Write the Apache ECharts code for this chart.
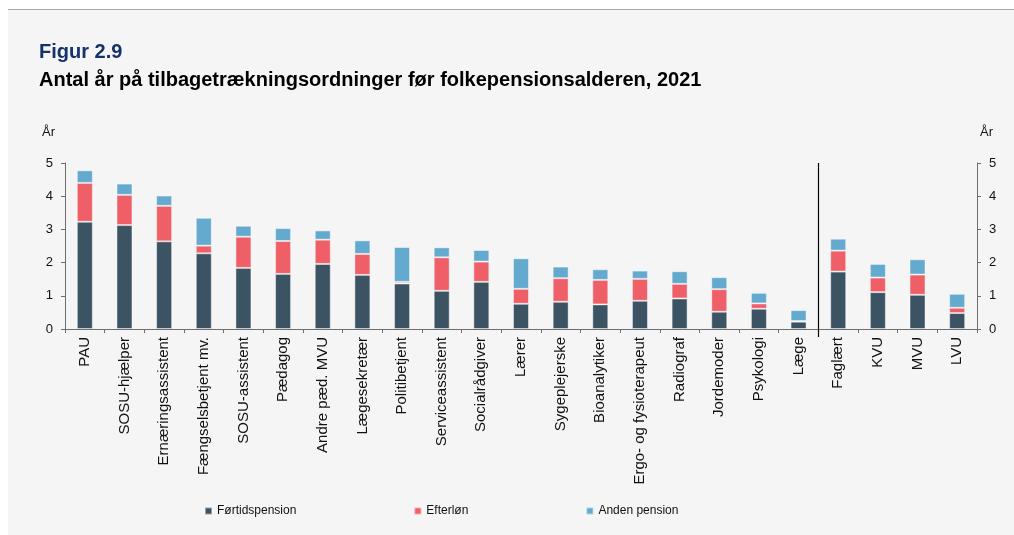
<!DOCTYPE html>
<html lang="da">
<head>
	<meta charset="UTF-8">
	<title>Figur 2.9</title>
	<script src="https://cdn.jsdelivr.net/npm/echarts@6/dist/echarts.min.js"></script>
	<style>
		html, body { margin: 0; padding: 0; background: #fff; }
		#main { width: 1014px; height: 535px; }
	</style>
</head>
<body>
	<div id="main"></div>
	<script>
		// kategorier (uddannelser / grupper)
		var categories = ['PAU', 'SOSU-hjælper', 'Ernæringsassistent', 'Fængselsbetjent mv.', 'SOSU-assistent',
			'Pædagog', 'Andre pæd. MVU', 'Lægesekretær', 'Politibetjent', 'Serviceassistent', 'Socialrådgiver',
			'Lærer', 'Sygeplejerske', 'Bioanalytiker', 'Ergo- og fysioterapeut', 'Radiograf', 'Jordemoder',
			'Psykologi', 'Læge', 'Faglært', 'KVU', 'MVU', 'LVU']
		// år pr. ordning
		var fortid = [3.23, 3.13, 2.64, 2.28, 1.84, 1.66, 1.96, 1.63, 1.37, 1.15, 1.42, 0.76, 0.82, 0.74, 0.85, 0.92, 0.52, 0.61, 0.22, 1.73, 1.11, 1.03, 0.48]
		var efterlon = [1.17, 0.91, 1.07, 0.23, 0.94, 0.99, 0.73, 0.63, 0.05, 1.01, 0.61, 0.45, 0.71, 0.74, 0.66, 0.44, 0.68, 0.16, 0.02, 0.63, 0.44, 0.61, 0.16]
		var anden = [0.38, 0.34, 0.31, 0.84, 0.33, 0.39, 0.28, 0.41, 1.05, 0.30, 0.35, 0.92, 0.35, 0.32, 0.25, 0.38, 0.36, 0.32, 0.33, 0.36, 0.41, 0.46, 0.42]
		var yTicks = [0, 1, 2, 3, 4, 5]

		var font = '"Liberation Sans", Arial, sans-serif'
		var axisColor = '#6e6e6e'

		function yAxisOpt (pos) {
			return {
				type: 'value',
				position: pos,
				min: yTicks[0],
				max: yTicks[yTicks.length - 1],
				interval: 1,
				axisLine: { show: true, lineStyle: { color: axisColor, width: 1 } },
				axisTick: { show: true, length: 4, lineStyle: { color: axisColor } },
				axisLabel: { margin: 12, color: '#111', fontSize: 13, fontFamily: font },
				splitLine: { show: false }
			}
		}

		function barSeries (name, data, color) {
			return {
				name: name,
				type: 'bar',
				stack: 'total',
				barWidth: 16,
				data: data,
				itemStyle: { color: color, borderColor: 'rgba(255,255,255,0.45)', borderWidth: 1 },
				emphasis: { disabled: true }
			}
		}

		var myChart = echarts.init(document.getElementById('main'))
		var option = {
			backgroundColor: '#fff',
			animation: false,
			textStyle: { fontFamily: font },
			title: [
				{ text: 'Figur 2.9', left: 39, top: 42, padding: 0, textStyle: { color: '#15326B', fontSize: 20, fontWeight: 'bold', fontFamily: font } },
				{ text: 'Antal år på tilbagetrækningsordninger før folkepensionsalderen, 2021', left: 39, top: 70, padding: 0,
					textStyle: { color: '#000', fontSize: 20, fontWeight: 'bold', fontFamily: font } }
			],
			legend: {
				top: 505,
				left: 204,
				padding: 0,
				itemWidth: 7,
				itemHeight: 7,
				itemGap: 117,
				icon: 'rect',
				textStyle: { fontSize: 12, color: '#111', fontFamily: font },
				data: ['Førtidspension', 'Efterløn', 'Anden pension']
			},
			grid: { left: 65, right: 37, top: 163, height: 166, containLabel: false, outerBoundsMode: 'none' },
			xAxis: {
				type: 'category',
				data: categories,
				axisLine: { lineStyle: { color: axisColor, width: 1 } },
				axisTick: { show: true, length: 4, lineStyle: { color: axisColor } },
				axisLabel: { rotate: 90, interval: 0, margin: 8, color: '#111', fontSize: 15, fontFamily: font }
			},
			yAxis: [yAxisOpt('left'), yAxisOpt('right')],
			series: [
				barSeries('Førtidspension', fortid, '#3C5364'),
				barSeries('Efterløn', efterlon, '#EF5F68'),
				barSeries('Anden pension', anden, '#64AACF')
			]
		}
		myChart.setOption(option)

		// skillelinje mellem Læge og Faglært, regnet ud fra akserne
		var xA = myChart.convertToPixel({ xAxisIndex: 0 }, 'Læge')
		var xB = myChart.convertToPixel({ xAxisIndex: 0 }, 'Faglært')
		var yTop = myChart.convertToPixel({ yAxisIndex: 0 }, 5)
		var yBot = myChart.convertToPixel({ yAxisIndex: 0 }, 0)
		var sepX = Math.round((xA + xB) / 2) + 0.5

		myChart.setOption({
			graphic: [
				{ type: 'rect', z: -10, silent: true, shape: { x: 8, y: 9, width: 1006, height: 526 }, style: { fill: '#F5F5F5' } },
				{ type: 'line', z: -9, silent: true, shape: { x1: 8, y1: 9.5, x2: 1014, y2: 9.5 }, style: { stroke: '#A8A8A8', lineWidth: 1 } },
				{ type: 'line', z: 10, silent: true, shape: { x1: sepX, y1: yTop, x2: sepX, y2: yBot + 8 }, style: { stroke: '#000', lineWidth: 1.2 } },
				{ type: 'text', left: 42, top: 126, style: { text: 'År', font: '13px ' + font, fill: '#111' } },
				{ type: 'text', left: 980, top: 126, style: { text: 'År', font: '13px ' + font, fill: '#111' } }
			]
		})
	</script>
</body>
</html>
